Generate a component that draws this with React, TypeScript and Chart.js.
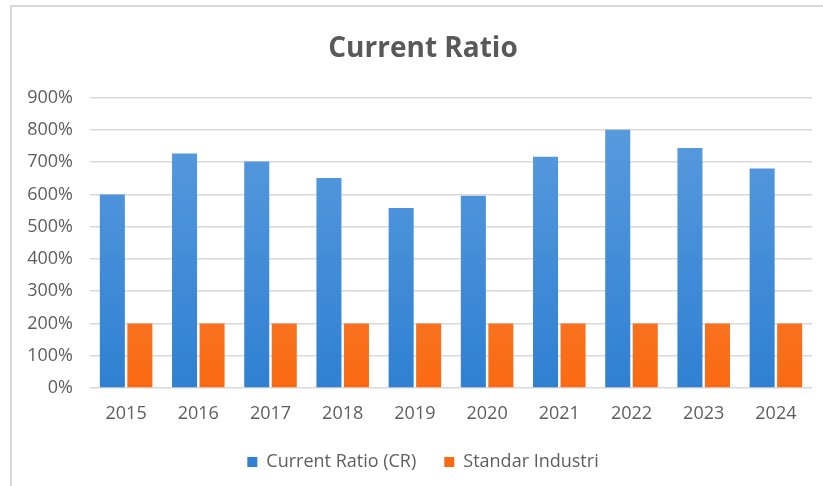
import React, { useEffect, useRef } from "react";
import { Chart, registerables } from "chart.js";

Chart.register(...registerables);

// Years on the category axis
const years = ["2015", "2016", "2017", "2018", "2019", "2020", "2021", "2022", "2023", "2024"];

// Current ratio per year, in percent
const currentRatio = [600, 727, 702, 651, 558, 596, 717, 800, 744, 680];

// Industry benchmark, in percent
const standarIndustri = [200, 200, 200, 200, 200, 200, 200, 200, 200, 200];

const seriesNames = ["Current Ratio (CR)", "Standar Industri"];

const FONT = "'Open Sans', 'DejaVu Sans', sans-serif";
const TEXT = "#5e5e5e";

// Vertical gradient fill for the columns, lighter at the top
function columnFill(top: string, bottom: string, fallback: string) {
  return (ctx: any) => {
    const area = ctx.chart.chartArea;
    if (!area) return fallback;
    const g = ctx.chart.ctx.createLinearGradient(0, area.top, 0, area.bottom);
    g.addColorStop(0, top);
    g.addColorStop(1, bottom);
    return g;
  };
}

export default function App() {
  const canvasRef = useRef<HTMLCanvasElement | null>(null);

  useEffect(() => {
    if (!canvasRef.current) return;
    const chart = new Chart(canvasRef.current, {
      type: "bar",
      data: {
        labels: years,
        datasets: [
          {
            label: seriesNames[0],
            data: currentRatio,
            backgroundColor: columnFill("#5c9ddf", "#2f80d2", "#4a90d9"),
            borderWidth: 0,
            categoryPercentage: 0.762,
            barPercentage: 0.91,
          },
          {
            label: seriesNames[1],
            data: standarIndustri,
            backgroundColor: columnFill("#f08b4c", "#fb6a12", "#f47b30"),
            borderWidth: 0,
            categoryPercentage: 0.762,
            barPercentage: 0.91,
          },
        ],
      },
      options: {
        animation: false,
        responsive: true,
        maintainAspectRatio: false,
        layout: { padding: { left: 0, right: 0, top: 0, bottom: 5 } },
        plugins: {
          title: {
            display: true,
            text: "Current Ratio",
            color: "#595959",
            font: { family: FONT, size: 28, weight: "bold", lineHeight: 1.2 },
            padding: { top: 25, bottom: 32 },
          },
          legend: {
            position: "bottom",
            labels: {
              boxWidth: 10,
              boxHeight: 10,
              padding: 28,
              color: TEXT,
              font: { family: FONT, size: 18 },
            },
          },
          tooltip: { enabled: false },
        },
        scales: {
          x: {
            grid: { display: false, drawTicks: false },
            border: { display: false },
            ticks: {
              color: TEXT,
              padding: 15,
              font: { family: FONT, size: 18 },
            },
            afterFit: (scale: any) => {
              scale.height = 37;
            },
          },
          y: {
            min: 0,
            max: 900,
            grid: { color: "#d9d9d9", lineWidth: 1.5, drawTicks: false },
            border: { display: false },
            ticks: {
              stepSize: 100,
              color: TEXT,
              padding: 17,
              font: { family: FONT, size: 18 },
              callback: (v: any) => `${v}%`,
            },
            afterFit: (scale: any) => {
              scale.width = 78;
            },
          },
          // empty right-hand margin so the plot and title sit like the frame
          yRight: {
            position: "right",
            display: true,
            grid: { display: false, drawTicks: false },
            border: { display: false },
            ticks: { display: false },
            afterFit: (scale: any) => {
              scale.width = 22;
            },
          },
        },
      },
    });
    return () => chart.destroy();
  }, []);

  return (
    <div
      style={{
        position: "absolute",
        left: 10,
        top: 5,
        width: 813,
        height: 481,
        boxSizing: "border-box",
        borderTop: "2px solid #d9d9d9",
        borderLeft: "2px solid #d9d9d9",
        background: "#ffffff",
        overflow: "hidden",
      }}
    >
      <div style={{ position: "relative", width: 822, height: 479 }}>
        <canvas ref={canvasRef} />
      </div>
    </div>
  );
}
